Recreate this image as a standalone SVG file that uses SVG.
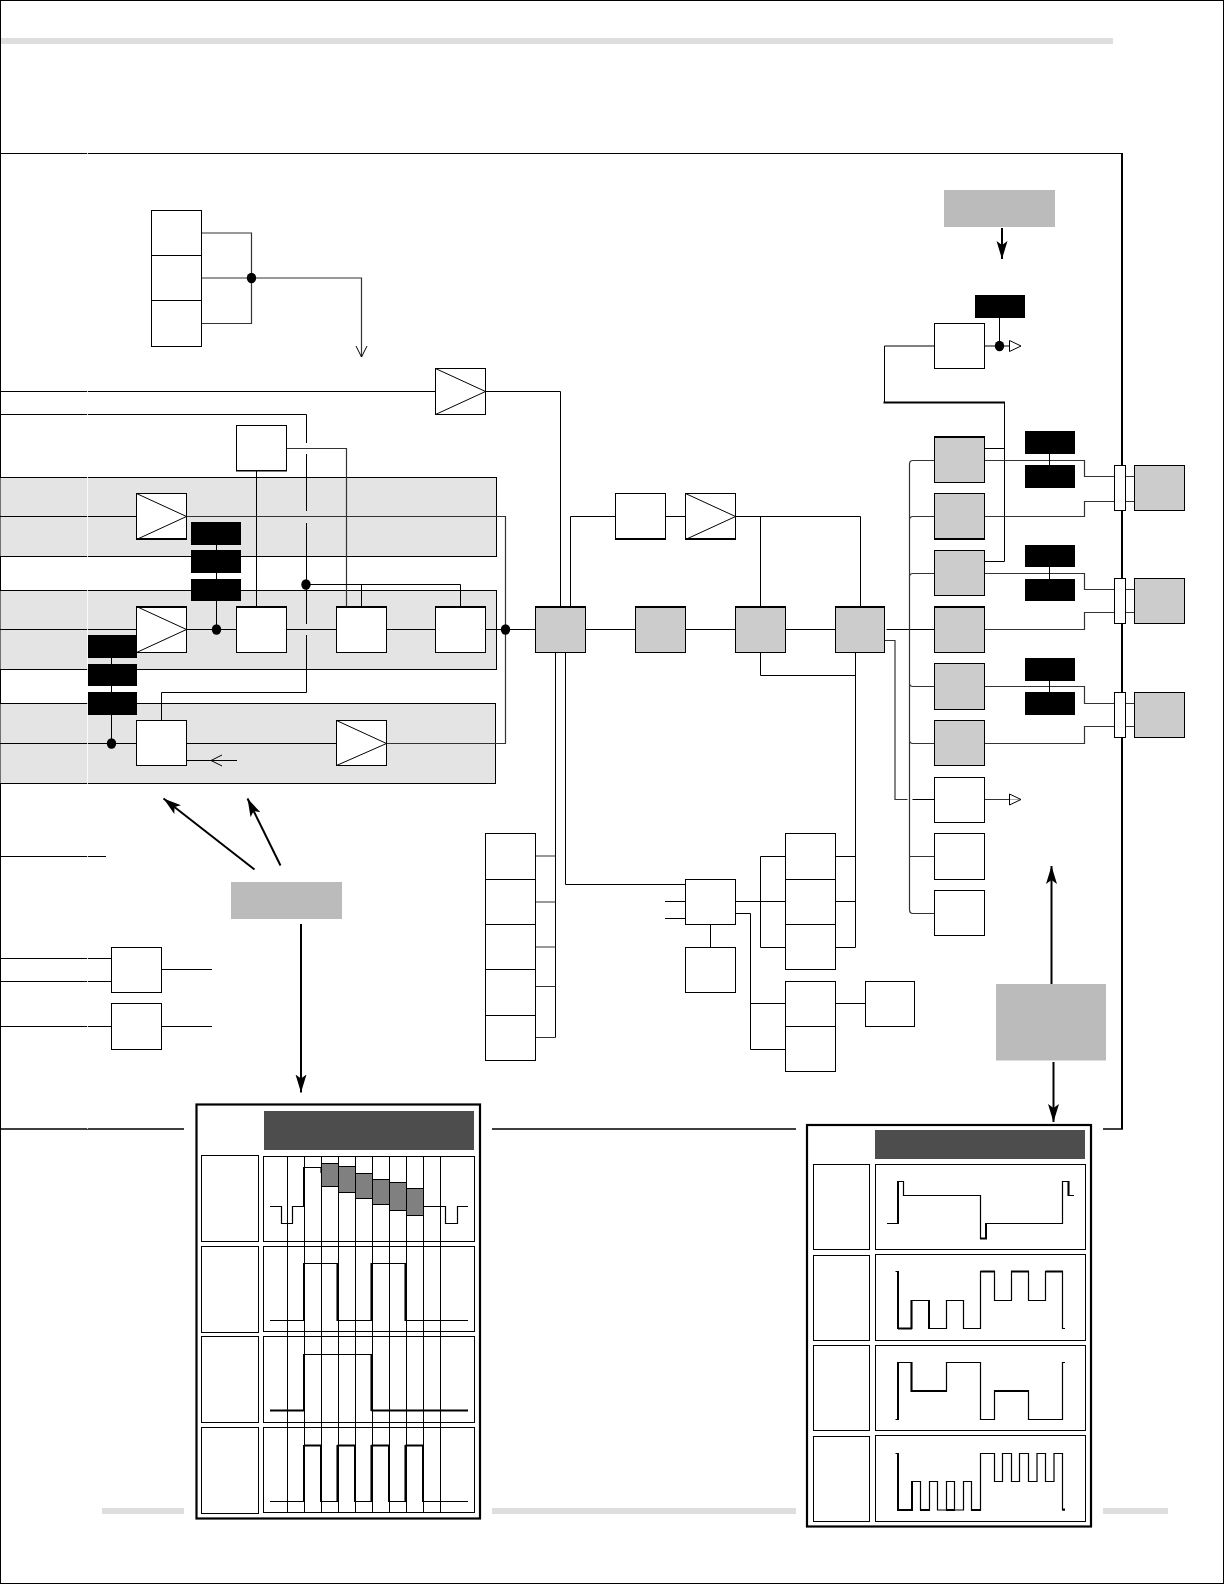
<svg xmlns="http://www.w3.org/2000/svg" width="1224" height="1584" viewBox="0 0 1224 1584">
<style>
.bg{fill:#fff}
.page{fill:none;stroke:#000;stroke-width:1}
.strip{fill:#dedede}
.band{fill:#e4e4e4;stroke:#000;stroke-width:1}
.b{fill:#fff;stroke:#000;stroke-width:1}
.s{fill:#ccc;stroke:#000;stroke-width:1}
.k{fill:#000}
.n{fill:#bbb}
.hd{fill:#4d4d4d}
.p{fill:#fff;stroke:#000;stroke-width:2.2}
.c{fill:none;stroke:#000;stroke-width:1}
.g{fill:none;stroke:#333;stroke-width:1.2}
.t{fill:none;stroke:#000;stroke-width:2}
.w{fill:none;stroke:#000;stroke-width:1.2}
.bl{fill:#808080;stroke:#000;stroke-width:1}
.a{fill:none;stroke:#000;stroke-width:2}
.d{fill:#000}
.tri{fill:#fff;stroke:#000;stroke-width:1}
</style>
<defs>
<marker id="ah" markerUnits="userSpaceOnUse" markerWidth="20" markerHeight="12" refX="18" refY="6" orient="auto"><path d="M0 0.5 L18 6 L0 11.5 L4 6Z" fill="#000"/></marker>
</defs>
<rect class="bg" width="1224" height="1584"/>
<rect class="page" x="0.5" y="0.5" width="1223" height="1583"/>
<g id="page-strips">
<rect class="strip" x="1" y="38" width="1112" height="6"/>
<rect class="strip" x="102" y="1508" width="82" height="6"/>
<rect class="strip" x="492" y="1508" width="304" height="6"/>
<rect class="strip" x="1103" y="1508" width="65" height="6"/>
</g>
<g id="frame">
<path class="c" stroke-width="1.2" d="M0 153.5H1122"/>
<path class="t" d="M1122 153V1129"/>
<path class="t" style="stroke-width:1.6" d="M0 1129H184M492 1129H796M1103 1129H1123"/>
</g>
<g id="bands">
<rect class="band" x="0" y="477.5" width="496.5" height="79"/>
<rect class="band" x="0" y="590.5" width="496.5" height="79"/>
<rect class="band" x="0" y="703.5" width="495.5" height="80"/>
</g>
<g id="connectors">
<path class="g" d="M201.5 233H251.5V323.5H201.5M201.5 278H361.5V357"/>
<path class="c" d="M356 346L361.5 357L367 346"/>
<path class="c" d="M0 391.5H436M486 391.5H560.5V607"/>
<path class="c" d="M0 414.5H306.5V443M306.5 454V511M306.5 523V624M306.5 635V692.5H161.5V720"/>
<path class="g" d="M286.5 448.5H346.5V607"/>
<path class="c" d="M256.5 470V607"/>
<path class="c" d="M0 516.5H136.5"/>
<path class="g" d="M186.5 516.5H505.5V743.5H386.5"/>
<path class="c" d="M216.5 544V630"/>
<path class="c" d="M0 629.5H136.5M186.5 629.5H236.5M286.5 629.5H336.5M386.5 629.5H435.5M485.5 629.5H535.5M585.5 629.5H635.5M685.5 629.5H735.5M785.5 629.5H835.5M886.5 629.5H934.5"/>
<path class="c" d="M306.5 584.5H460.5V607M361.5 584.5V607"/>
<path class="c" d="M111.5 657V743.5"/>
<path class="c" d="M0 743.5H136.5M186.5 743.5H336.5"/>
<path class="c" d="M186.5 760.5H237M222 755L211 760.5L222 766"/>
<path class="c" d="M570.5 607V516.5H615.5M665.5 516.5H685.5M735.5 516.5H860.5V607M760.5 516.5V607"/>
<path class="c" d="M760.5 652V675.5H855.5M855.5 652V947.5H835.5M835.5 856.5H855.5M835.5 901.5H855.5"/>
<path class="g" d="M885 640.5H895V799.5H907.5"/>
<path class="c" d="M912.5 799.5H934.5"/>
<path class="c" d="M555.5 652V1037.5"/>
<path class="c" d="M565.5 652V884.5H685.5"/>
<path class="g" d="M535.5 856H555.5M535.5 902H555.5M535.5 947H555.5M535.5 986.5H555.5M535.5 1037.5H555.5"/>
<path class="c" d="M665 901.5H685.5M665 918.5H685.5M710.5 924V947.5"/>
<path class="c" d="M735.5 901.5H785.5M760.5 856.5V947.5M760.5 856.5H785.5M760.5 947.5H785.5"/>
<path class="c" d="M735.5 913.5H750.5V1049.5H785.5M750.5 1003.5H785.5M835.5 1003.5H865.5"/>
<path class="c" d="M0 856.5H106M0 958.5H111.5M0 981.5H111.5M161.5 969.5H212M0 1026.5H111.5M161.5 1026.5H212"/>
<path class="c" d="M999.5 317V346M984 346H1010M934.5 346H884.5V402.5"/>
<path class="t" d="M883.5 402.5H1005"/>
<path class="c" d="M1004.5 402.5V561.5H984.5M984.5 448.5H1004.5"/>
<path class="g" d="M934.5 460.5H913Q909.5 460.5 909.5 464V909.5Q909.5 913.5 913 913.5H934.5M934.5 516.5H913Q909.5 516.5 909.5 520M934.5 573.5H913Q909.5 573.5 909.5 577M934.5 686.5H913Q909.5 686.5 909.5 683M934.5 743.5H913Q909.5 743.5 909.5 740M934.5 856.5H909.5"/>
<path class="g" d="M984.5 460.5H1084.5V476.5H1114.5M1125.5 476.5H1134.5M984.5 516.5H1084.5V501.5H1114.5M1125.5 501.5H1134.5"/>
<path class="g" d="M984.5 573.5H1084.5V589.5H1114.5M1125.5 589.5H1134.5M984.5 629.5H1084.5V612.5H1114.5M1125.5 612.5H1134.5"/>
<path class="g" d="M984.5 686.5H1084.5V703.5H1114.5M1125.5 703.5H1134.5M984.5 743.5H1084.5V726.5H1114.5M1125.5 726.5H1134.5"/>
<path class="c" d="M1049.5 453V466M1049.5 566V580M1049.5 681V693"/>
<path class="g" d="M984.5 799.5H1021"/>
<path class="a" d="M1002 228V259" marker-end="url(#ah)"/>
<path class="a" d="M254.5 869.5L163.5 798.5" marker-end="url(#ah)"/>
<path class="a" d="M280.5 865.5L247.5 798.5" marker-end="url(#ah)"/>
<path class="a" d="M301 924V1092.5" marker-end="url(#ah)"/>
<path class="a" d="M1051.5 984V866" marker-end="url(#ah)"/>
<path class="a" d="M1053.5 1062V1122" marker-end="url(#ah)"/>
</g>
<g id="junctions">
<ellipse class="d" cx="251.5" cy="278" rx="4.7" ry="5.2"/>
<ellipse class="d" cx="306" cy="584.5" rx="4.7" ry="5.2"/>
<ellipse class="d" cx="216.5" cy="629.5" rx="4.7" ry="5.2"/>
<ellipse class="d" cx="505.5" cy="629.5" rx="4.7" ry="5.2"/>
<ellipse class="d" cx="111.5" cy="743.5" rx="4.7" ry="5.2"/>
<ellipse class="d" cx="999.5" cy="346" rx="4.7" ry="5.2"/>
</g>
<g id="tri-1"><path class="tri" d="M1009.5 340.5L1021 346L1009.5 351.5Z"/></g>
<g id="tri-2"><path class="tri" fill-opacity="0.6" d="M1009.5 794L1021 799.5L1009.5 805Z"/></g>
<g id="stack-top">
<rect class="b" x="151.5" y="210.5" width="50" height="45"/>
<rect class="b" x="151.5" y="255.5" width="50" height="45"/>
<rect class="b" x="151.5" y="300.5" width="50" height="46"/>
</g>
<g id="amp-top"><rect class="b" x="435.5" y="368.5" width="50" height="46"/><path class="c" d="M435.5 368.5L485.5 391.5L435.5 414.5"/></g>
<g id="box-a"><rect class="b" x="236.5" y="425.5" width="50" height="45.5"/><path class="c" d="M236 470.5H287"/></g>
<g id="amp-1"><rect class="b" x="136.5" y="493.5" width="50" height="46"/><path class="c" d="M136.5 493.5L186.5 516.5L136.5 539.5M136 538.5H187"/></g>
<g id="amp-2"><rect class="b" x="136.5" y="606.5" width="50" height="46"/><path class="c" d="M136.5 606.5L186.5 629.5L136.5 652.5M136 607.5H187"/></g>
<g id="box-b"><rect class="b" x="236.5" y="606.5" width="50" height="46"/><path class="c" d="M236 607.5H287"/></g>
<g id="box-c"><rect class="b" x="336.5" y="606.5" width="50" height="46"/><path class="c" d="M336 607.5H387"/></g>
<g id="box-d"><rect class="b" x="435.5" y="606.5" width="50" height="46"/><path class="c" d="M435 607.5H486"/></g>
<g id="box-e"><rect class="b" x="136.5" y="720.5" width="50" height="45"/></g>
<g id="amp-3"><rect class="b" x="336.5" y="720.5" width="50" height="45"/><path class="c" d="M336.5 720.5L386.5 743.5L336.5 765.5"/></g>
<g id="black-1">
<rect class="k" x="191" y="522" width="50" height="23"/>
<rect class="k" x="191" y="550" width="50" height="23"/>
<rect class="k" x="191" y="579" width="50" height="22"/>
</g>
<g id="black-2">
<rect class="k" x="88" y="635" width="49" height="23"/>
<rect class="k" x="88" y="664" width="49" height="22"/>
<rect class="k" x="88" y="692" width="49" height="23"/>
</g>
<g id="box-f"><rect class="b" x="615.5" y="493.5" width="50" height="46"/><path class="c" d="M615 538.5H666"/></g>
<g id="amp-4"><rect class="b" x="685.5" y="493.5" width="50" height="46"/><path class="c" d="M685.5 493.5L735.5 516.5L685.5 539.5M685 538.5H736"/></g>
<g id="gray-h1"><rect class="s" x="535.5" y="606.5" width="50" height="46"/><path class="c" d="M535 607.5H586"/></g>
<g id="gray-h2"><rect class="s" x="635.5" y="606.5" width="50" height="46"/><path class="c" d="M635 607.5H686"/></g>
<g id="gray-h3"><rect class="s" x="735.5" y="606.5" width="50" height="46"/><path class="c" d="M735 607.5H786"/></g>
<g id="gray-h4"><rect class="s" x="835.5" y="606.5" width="49" height="46"/><path class="c" d="M835 607.5H885"/></g>
<g id="stack-s">
<rect class="b" x="485.5" y="833.5" width="50" height="46"/>
<rect class="b" x="485.5" y="879.5" width="50" height="45"/>
<rect class="b" x="485.5" y="924.5" width="50" height="45"/>
<rect class="b" x="485.5" y="969.5" width="50" height="46"/>
<rect class="b" x="485.5" y="1015.5" width="50" height="45"/>
</g>
<g id="box-m"><rect class="b" x="685.5" y="879.5" width="50" height="45"/></g>
<g id="box-m2"><rect class="b" x="685.5" y="947.5" width="50" height="45"/></g>
<g id="stack-t">
<rect class="b" x="785.5" y="833.5" width="50" height="46"/>
<rect class="b" x="785.5" y="879.5" width="50" height="45"/>
<rect class="b" x="785.5" y="924.5" width="50" height="45"/>
</g>
<g id="stack-u">
<rect class="b" x="785.5" y="981.5" width="50" height="45"/>
<rect class="b" x="785.5" y="1026.5" width="50" height="45"/>
</g>
<g id="box-v"><rect class="b" x="865.5" y="981.5" width="49" height="45"/></g>
<g id="box-x1"><rect class="b" x="111.5" y="947.5" width="50" height="45"/></g>
<g id="box-x2"><rect class="b" x="111.5" y="1003.5" width="50" height="46"/></g>
<g id="box-out"><rect class="b" x="934.5" y="323.5" width="50" height="45"/></g>
<g id="black-out"><rect class="k" x="975" y="295" width="50" height="23"/></g>
<g id="gray-1"><rect class="s" x="934.5" y="436.5" width="50" height="46"/><path class="c" d="M934 437.5H985"/></g>
<g id="gray-2"><rect class="s" x="934.5" y="493.5" width="50" height="46"/><path class="c" d="M934 538.5H985"/></g>
<g id="gray-3"><rect class="s" x="934.5" y="550.5" width="50" height="45"/></g>
<g id="gray-4"><rect class="s" x="934.5" y="606.5" width="50" height="46"/><path class="c" d="M934 607.5H985"/></g>
<g id="gray-5"><rect class="s" x="934.5" y="663.5" width="50" height="46"/></g>
<g id="gray-6"><rect class="s" x="934.5" y="720.5" width="50" height="45"/></g>
<g id="white-1"><rect class="b" x="934.5" y="777.5" width="50" height="45"/></g>
<g id="white-2"><rect class="b" x="934.5" y="833.5" width="50" height="46"/></g>
<g id="white-3"><rect class="b" x="934.5" y="890.5" width="50" height="45"/></g>
<g id="black-r1"><rect class="k" x="1025" y="431" width="50" height="23"/><rect class="k" x="1025" y="465" width="50" height="23"/></g>
<g id="black-r2"><rect class="k" x="1025" y="545" width="50" height="22"/><rect class="k" x="1025" y="579" width="50" height="22"/></g>
<g id="black-r3"><rect class="k" x="1025" y="658" width="50" height="23"/><rect class="k" x="1025" y="692" width="50" height="23"/></g>
<g id="conn-1"><rect class="b" x="1114.5" y="465.5" width="11" height="45"/></g>
<g id="conn-2"><rect class="b" x="1114.5" y="578.5" width="11" height="45"/></g>
<g id="conn-3"><rect class="b" x="1114.5" y="692.5" width="11" height="45"/></g>
<g id="right-1"><rect class="s" x="1134.5" y="465.5" width="50" height="45"/></g>
<g id="right-2"><rect class="s" x="1134.5" y="578.5" width="50" height="45"/><path class="c" d="M1134 623.5H1185"/></g>
<g id="right-3"><rect class="s" x="1134.5" y="692.5" width="50" height="45"/></g>
<g id="note-1"><rect class="n" x="944" y="190" width="111" height="37"/></g>
<g id="note-2"><rect class="n" x="231" y="882" width="111" height="37"/></g>
<g id="note-3"><rect class="n" x="996" y="984" width="110" height="76.5"/></g>
<g id="panel-1">
<rect class="p" x="196.5" y="1104.5" width="283.5" height="414"/>
<rect class="hd" x="264" y="1111" width="210" height="39"/>
<rect class="b" x="201.5" y="1155.5" width="57" height="86"/>
<rect class="b" x="201.5" y="1246.5" width="57" height="86"/>
<rect class="b" x="201.5" y="1336.5" width="57" height="86"/>
<rect class="b" x="201.5" y="1427.5" width="57" height="86"/>
<rect class="b" x="263.5" y="1156.5" width="211" height="85"/>
<rect class="b" x="263.5" y="1246.5" width="211" height="85"/>
<rect class="b" x="263.5" y="1336.5" width="211" height="86"/>
<rect class="b" x="263.5" y="1427.5" width="211" height="85"/>
<path class="c" d="M287.5 1156V1512M304.5 1156V1512M321.5 1156V1512M338.5 1156V1512M355.5 1156V1512M372.5 1156V1512M389.5 1156V1512M406.5 1156V1512M423.5 1156V1512M440.5 1156V1512"/>
<path class="w" d="M270 1206.5H281.5V1223.5H292.5V1206.5H304V1167.5H321V1173"/>
<rect class="bl" x="321.5" y="1163.5" width="17" height="23"/>
<rect class="bl" x="338.5" y="1166.5" width="17" height="26"/>
<rect class="bl" x="355.5" y="1173.5" width="17" height="25"/>
<rect class="bl" x="372.5" y="1179.5" width="17" height="25"/>
<rect class="bl" x="389.5" y="1182.5" width="17" height="28"/>
<rect class="bl" x="406.5" y="1188.5" width="17" height="27"/>
<path class="w" d="M423.5 1206.5H445.5V1223.5H457.5V1206.5H468"/>
<path class="w" d="M270 1320.5H304V1263.5H337.5V1320.5H371.5V1263.5H405.5V1320.5H468"/>
<path class="w" d="M270 1410.5H304V1354.5H371.5V1410.5H468"/>
<path class="w" d="M270 1501.5H304V1445.5H321V1501.5H337.5V1445.5H355V1501.5H371.5V1445.5H389V1501.5H405.5V1445.5H423V1501.5H468"/>
<path class="t" d="M304 1167V1207M304 1263V1321M337.5 1263V1321M371.5 1263V1321M405.5 1263V1321M270 1410.5H304M304 1354V1411M371.5 1354V1411M371.5 1410.5H468M304 1445V1502M321 1445V1502M337.5 1445V1502M355 1445V1502M371.5 1445V1502M389 1445V1502M405.5 1445V1502M423 1445V1502M304 1445.5H321M337.5 1445.5H355M371.5 1445.5H389M405.5 1445.5H423"/>
</g>
<g id="panel-2">
<rect class="p" x="807" y="1125" width="284" height="401.5"/>
<rect class="hd" x="875" y="1130" width="210" height="29"/>
<rect class="b" x="813.5" y="1164.5" width="56" height="85"/>
<rect class="b" x="813.5" y="1255.5" width="56" height="85"/>
<rect class="b" x="813.5" y="1345.5" width="56" height="85"/>
<rect class="b" x="813.5" y="1436.5" width="56" height="85"/>
<rect class="b" x="875.5" y="1164.5" width="210" height="85"/>
<rect class="b" x="875.5" y="1254.5" width="210" height="86"/>
<rect class="b" x="875.5" y="1345.5" width="210" height="85"/>
<rect class="b" x="875.5" y="1435.5" width="210" height="86"/>
<path class="w" d="M887 1223.5H898V1181.5H903.5V1195.5H980.5V1238.5H986V1223.5H1062.5V1181.5H1068.5V1195.5H1074"/>
<path class="w" d="M895.5 1271.5H898V1328.5H911.5V1300.5H929V1328.5H946.5V1300.5H963.5V1328.5H980.5V1271.5H994.5V1300.5H1011.5V1271.5H1028.5V1300.5H1045.5V1271.5H1062.5V1328.5H1065"/>
<path class="w" d="M895.5 1419.5H898V1362.5H911.5V1391H946.5V1362.5H980.5V1419.5H994.5V1391H1028.5V1419.5H1062.5V1362.5H1065"/>
<path class="w" d="M895.5 1453.5H898V1510H912V1481.5H920.5V1510H929.5V1481.5H937.5V1510H946.5V1481.5H954.5V1510H963.5V1481.5H971.5V1510H980.5V1453.5H994.5V1481.5H1002.5V1453.5H1011.5V1481.5H1019.5V1453.5H1028.5V1481.5H1037V1453.5H1045.5V1481.5H1054V1453.5H1062.5V1510H1065"/>
<path class="t" d="M898 1181V1224M986 1223V1239M980 1238.5H987M1068.5 1181V1196M898 1271V1329M898 1328.5H912M911.5 1300V1329M929 1300V1329M980.5 1271.5H995M1011 1271.5H1029M1045.5 1271.5H1063M898 1362V1420M911.5 1362V1392M911 1391H947M994 1391H1029M898 1453V1511M898 1510H912M912 1481V1511M920 1510H930M946 1510H955M971 1510H981M1062.5 1509.5H1065"/>
</g>
<g id="seam"><path d="M87.5 153V1129" fill="none" stroke="#fff" stroke-width="1" stroke-opacity="0.8"/></g>
</svg>
